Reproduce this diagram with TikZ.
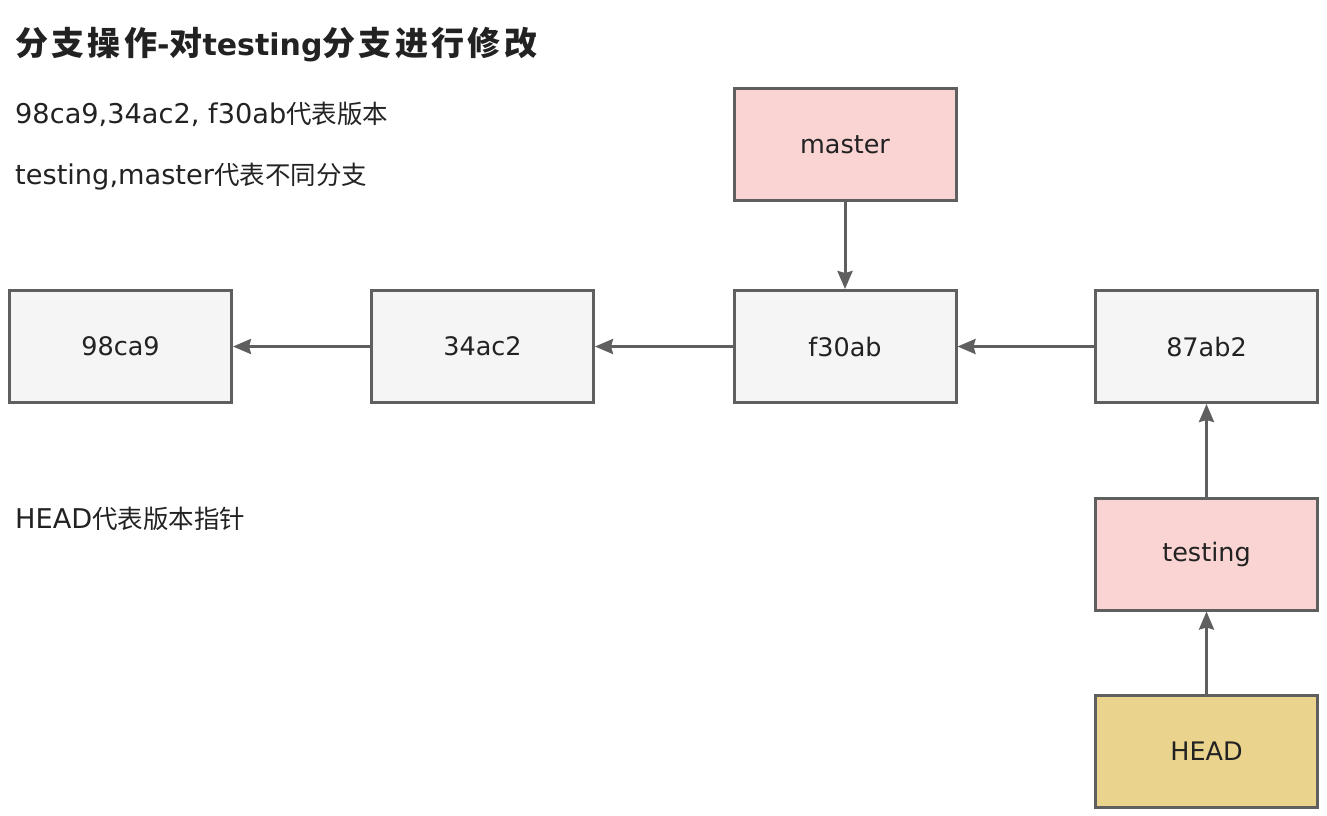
\documentclass[tikz,border=0pt]{standalone}
\usepackage{fontspec}
\setmainfont{Noto Sans CJK SC}
\newfontfamily\latfont{DejaVu Sans}
\newfontfamily\titlecjk[LetterSpace=10]{Noto Sans CJK SC}
\usetikzlibrary{arrows.meta}
\definecolor{edgecol}{HTML}{5F5F5F}
\definecolor{boxgray}{HTML}{F5F5F5}
\definecolor{boxpink}{HTML}{FAD4D3}
\definecolor{boxgold}{HTML}{EAD38C}
\definecolor{txt}{HTML}{222222}
\newcommand{\lt}[1]{{\latfont\fontsize{27.2}{30}\selectfont #1}}
\newcommand{\tl}[1]{{\latfont\bfseries\fontsize{30}{34}\selectfont #1}}
\tikzset{
  box/.style={draw=edgecol, line width=3pt, minimum width=222pt, minimum height=112pt, inner sep=0pt, font=\latfont\fontsize{25.5}{30}\selectfont, text=txt},
  commit/.style={box, fill=boxgray},
  branch/.style={box, fill=boxpink},
  headbox/.style={box, fill=boxgold},
  link/.style={draw=edgecol, line width=3pt, -{Stealth[length=18pt, width=15pt, inset=2pt]}},
  note/.style={anchor=west, inner sep=0pt, text=txt, font=\fontsize{25.5}{30}\selectfont},
}
\begin{document}
\begin{tikzpicture}[x=1pt, y=-1pt]
\useasboundingbox (0,0) rectangle (1327,815);
\node[note, font=\titlecjk\bfseries\fontsize{33}{38}\selectfont] (title) at (15,45) {分支操作\tl{-}对\tl{testing}分支进行修改};
\node[note] (n1) at (15,114) {\lt{98ca9,34ac2, f30ab}代表版本};
\node[note] (n2) at (15,177) {\lt{testing,master}代表不同分支};
\node[note] (n3) at (15,519) {\lt{HEAD}代表版本指针};
\node[commit] (c1) at (120.5,346.5) {98ca9};
\node[commit] (c2) at (482.5,346.5) {34ac2};
\node[commit] (c3) at (845,346.5) {f30ab};
\node[commit] (c4) at (1206.5,346.5) {87ab2};
\node[branch] (master) at (845,144.5) {master};
\node[branch] (testing) at (1206.5,554) {testing};
\node[headbox] (head) at (1206.5,751) {HEAD};
\draw[link] (c2) -- (c1);
\draw[link] (c3) -- (c2);
\draw[link] (c4) -- (c3);
\draw[link] (master) -- (c3);
\draw[link] (testing) -- (c4);
\draw[link] (head) -- (testing);
\end{tikzpicture}
\end{document}
